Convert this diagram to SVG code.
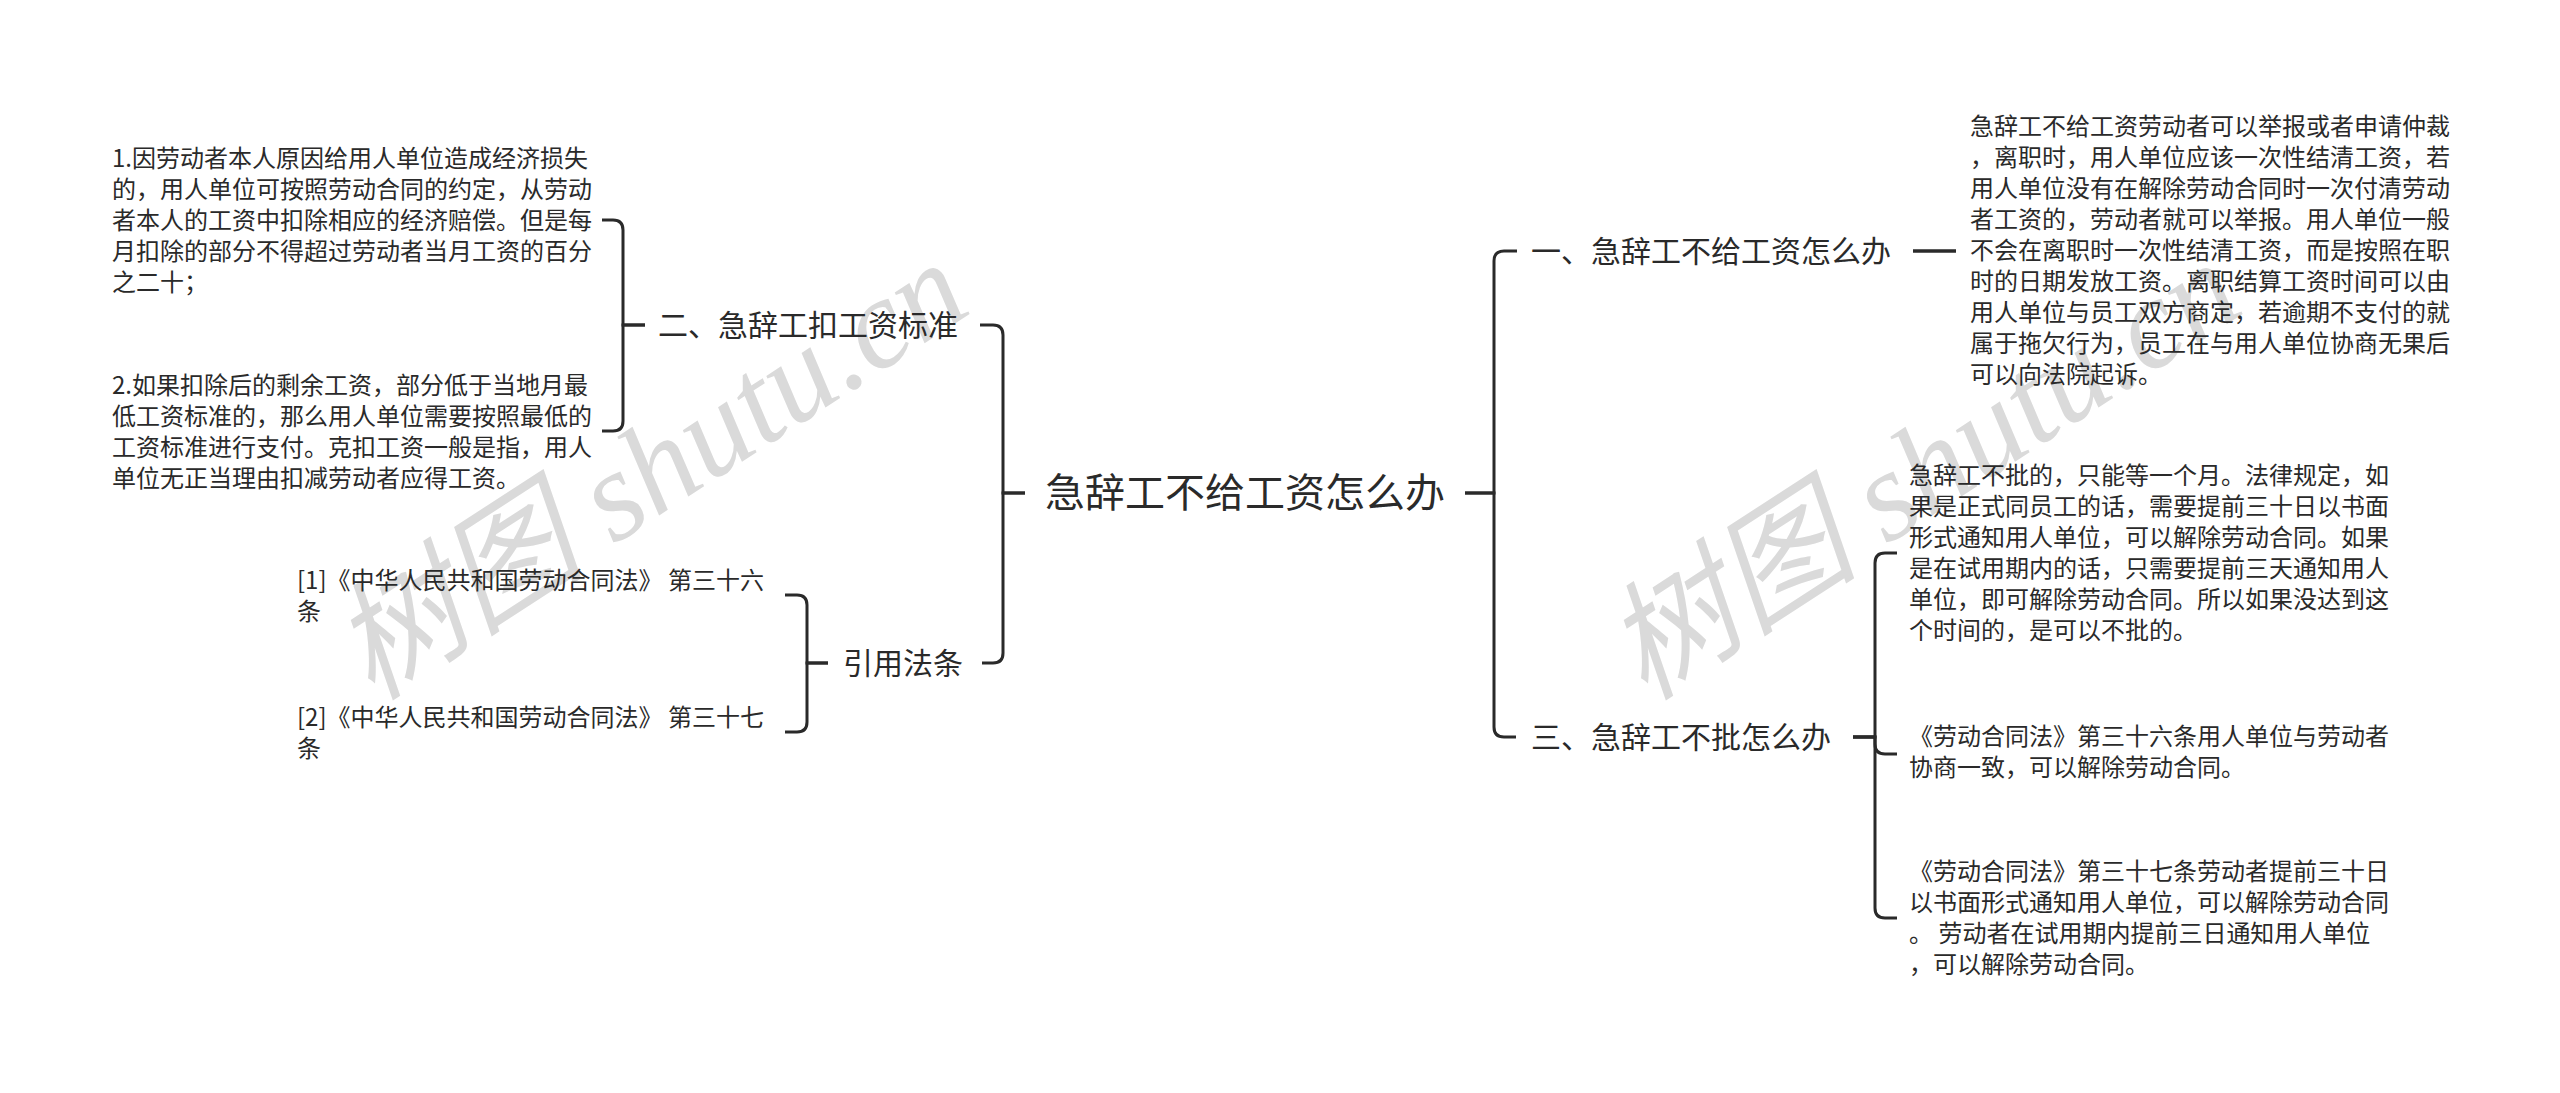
<svg xmlns="http://www.w3.org/2000/svg" width="2560" height="1093" viewBox="0 0 2560 1093">
<style>
.c{fill:none;stroke:#2a2a2a;stroke-width:3}
.t{font-family:"Noto Sans CJK SC","Noto Sans",sans-serif;fill:#2a2a2a}
.s{font-size:24px}
.m{font-size:30px}
.r{font-size:40px}
.w{font-family:"Liberation Serif","Noto Sans CJK SC",serif;font-style:italic;font-size:128px;fill:#dadada}
</style>
<rect width="2560" height="1093" fill="#ffffff"/>
<g id="watermarks">
<text class="w" transform="translate(372,702) rotate(-33)">树图 shutu.cn</text>
<text class="w" transform="translate(1645,702) rotate(-33)">树图 shutu.cn</text>
</g>
<g id="connectors">
<path class="c" d="M1025 493 H1003 V335 Q1003 325 993 325 H980"/>
<path class="c" d="M1025 493 H1003 V653 Q1003 663 993 663 H982"/>
<path class="c" d="M645 325 H623 V230 Q623 220 613 220 H602"/>
<path class="c" d="M645 325 H623 V421 Q623 431 613 431 H602"/>
<path class="c" d="M828 663 H807 V605 Q807 595 797 595 H785"/>
<path class="c" d="M828 663 H807 V722 Q807 732 797 732 H785"/>
<path class="c" d="M1465 493 H1494 V261 Q1494 251 1504 251 H1517"/>
<path class="c" d="M1465 493 H1494 V727 Q1494 737 1504 737 H1516"/>
<path class="c" style="stroke-width:3.5" d="M1913 251 H1956"/>
<path class="c" d="M1853 737 H1875 V563 Q1875 553 1885 553 H1897"/>
<path class="c" d="M1853 737 H1875 V744 Q1875 754 1885 754 H1897"/>
<path class="c" d="M1853 737 H1875 V908 Q1875 918 1885 918 H1897"/>
</g>
<g id="root">
<text class="t r" x="1045" y="507">急辞工不给工资怎么办</text>
</g>
<g id="n2">
<text class="t m" x="658" y="336">二、急辞工扣工资标准</text>
</g>
<g id="n2a">
<text class="t s"><tspan x="112" y="167">1.因劳动者本人原因给用人单位造成经济损失</tspan><tspan x="112" y="198">的，用人单位可按照劳动合同的约定，从劳动</tspan><tspan x="112" y="229">者本人的工资中扣除相应的经济赔偿。但是每</tspan><tspan x="112" y="260">月扣除的部分不得超过劳动者当月工资的百分</tspan><tspan x="112" y="291">之二十；</tspan></text>
</g>
<g id="n2b">
<text class="t s"><tspan x="112" y="394">2.如果扣除后的剩余工资，部分低于当地月最</tspan><tspan x="112" y="425">低工资标准的，那么用人单位需要按照最低的</tspan><tspan x="112" y="456">工资标准进行支付。克扣工资一般是指，用人</tspan><tspan x="112" y="487">单位无正当理由扣减劳动者应得工资。</tspan></text>
</g>
<g id="n4">
<text class="t m" x="843" y="674">引用法条</text>
</g>
<g id="n4a">
<text class="t s"><tspan x="297" y="589">[1]《中华人民共和国劳动合同法》 第三十六</tspan><tspan x="297" y="620">条</tspan></text>
</g>
<g id="n4b">
<text class="t s"><tspan x="297" y="726">[2]《中华人民共和国劳动合同法》 第三十七</tspan><tspan x="297" y="757">条</tspan></text>
</g>
<g id="n1">
<text class="t m" x="1531" y="262">一、急辞工不给工资怎么办</text>
</g>
<g id="n1a">
<text class="t s"><tspan x="1970" y="135">急辞工不给工资劳动者可以举报或者申请仲裁</tspan><tspan x="1970" y="166">，离职时，用人单位应该一次性结清工资，若</tspan><tspan x="1970" y="197">用人单位没有在解除劳动合同时一次付清劳动</tspan><tspan x="1970" y="228">者工资的，劳动者就可以举报。用人单位一般</tspan><tspan x="1970" y="259">不会在离职时一次性结清工资，而是按照在职</tspan><tspan x="1970" y="290">时的日期发放工资。离职结算工资时间可以由</tspan><tspan x="1970" y="321">用人单位与员工双方商定，若逾期不支付的就</tspan><tspan x="1970" y="352">属于拖欠行为，员工在与用人单位协商无果后</tspan><tspan x="1970" y="383">可以向法院起诉。</tspan></text>
</g>
<g id="n3">
<text class="t m" x="1531" y="748">三、急辞工不批怎么办</text>
</g>
<g id="n3a">
<text class="t s"><tspan x="1909" y="484">急辞工不批的，只能等一个月。法律规定，如</tspan><tspan x="1909" y="515">果是正式同员工的话，需要提前三十日以书面</tspan><tspan x="1909" y="546">形式通知用人单位，可以解除劳动合同。如果</tspan><tspan x="1909" y="577">是在试用期内的话，只需要提前三天通知用人</tspan><tspan x="1909" y="608">单位，即可解除劳动合同。所以如果没达到这</tspan><tspan x="1909" y="639">个时间的，是可以不批的。</tspan></text>
</g>
<g id="n3b">
<text class="t s"><tspan x="1909" y="745">《劳动合同法》第三十六条用人单位与劳动者</tspan><tspan x="1909" y="776">协商一致，可以解除劳动合同。</tspan></text>
</g>
<g id="n3c">
<text class="t s"><tspan x="1909" y="880">《劳动合同法》第三十七条劳动者提前三十日</tspan><tspan x="1909" y="911">以书面形式通知用人单位，可以解除劳动合同</tspan><tspan x="1909" y="942">。 劳动者在试用期内提前三日通知用人单位</tspan><tspan x="1909" y="973">，可以解除劳动合同。</tspan></text>
</g>
</svg>
